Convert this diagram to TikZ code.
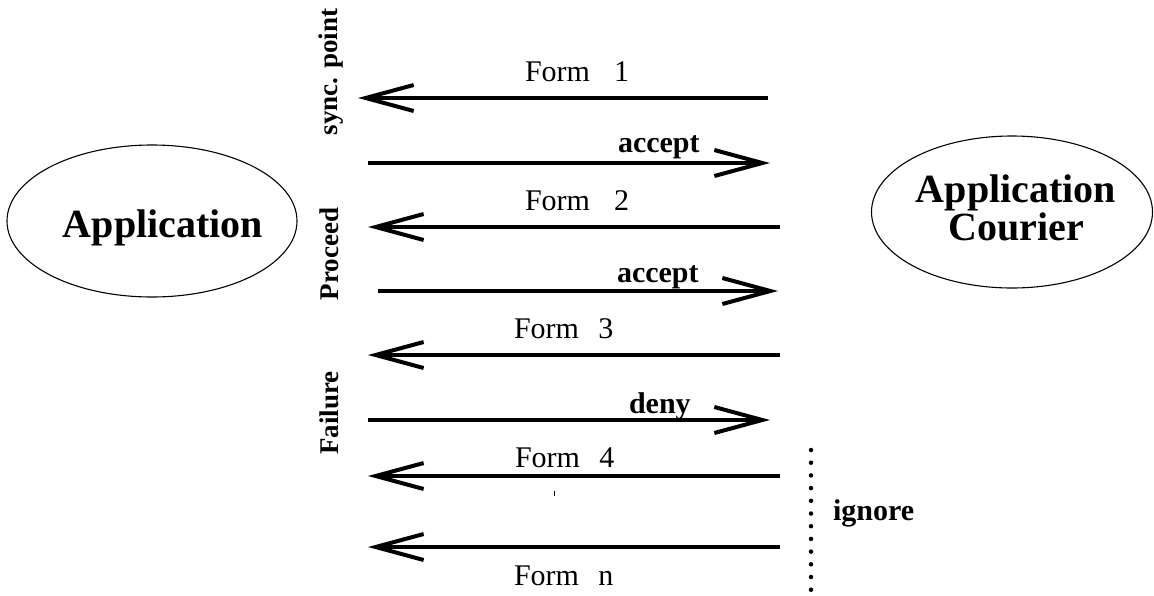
\documentclass[tikz,border=0pt]{standalone}
\usepackage{fontspec}
\setmainfont{Liberation Serif}
\usetikzlibrary{arrows.meta, shapes.geometric}

\begin{document}
\begin{tikzpicture}[x=1pt, y=-1pt, line width=4pt,
    msg/.style = {-{Straight Barb[length=48pt, width=26pt]}},
    party/.style = {draw, ellipse, line width=1.1pt, inner sep=0pt},
    partytext/.style = {inner sep=0pt, anchor=base, align=center, font=\fontsize{40}{38}\selectfont\bfseries},
    formtext/.style = {inner sep=0pt, anchor=base west, font=\fontsize{30}{36}\selectfont},
    replytext/.style = {formtext, font=\fontsize{30}{36}\selectfont\bfseries},
    phasetext/.style = {inner sep=0pt, anchor=base, rotate=90, font=\fontsize{27}{32}\selectfont\bfseries}]
    \useasboundingbox (0,0) rectangle (1154,595);
    % the two parties
    \node[party, minimum width=290pt, minimum height=152pt] (app) at (152,221) {};
    \node[party, minimum width=281pt, minimum height=152pt] (courier) at (1012,212) {};
    \node[partytext] (appname) at (163,237) {Application};
    \node[partytext] (couriername) at (1016,240) {Application\\Courier};
    % end points of the messages
    \coordinate (r1) at (768,98);  \coordinate (l1) at (358,98);
    \coordinate (l2) at (368,163); \coordinate (r2) at (770,163);
    \coordinate (r3) at (780,227); \coordinate (l3) at (368,227);
    \coordinate (l4) at (378,291); \coordinate (r4) at (778,291);
    \coordinate (r5) at (780,355); \coordinate (l5) at (368,355);
    \coordinate (l6) at (368,420); \coordinate (r6) at (770,420);
    \coordinate (r7) at (780,476); \coordinate (l7) at (368,476);
    \coordinate (r8) at (780,547); \coordinate (l8) at (368,547);
    \draw[msg] (r1) -- (l1);
    \draw[msg] (l2) -- (r2);
    \draw[msg] (r3) -- (l3);
    \draw[msg] (l4) -- (r4);
    \draw[msg] (r5) -- (l5);
    \draw[msg] (l6) -- (r6);
    \draw[msg] (r7) -- (l7);
    \draw[msg] (r8) -- (l8);
    % message labels
    \node[formtext] (f1) at (523,81) {Form\hspace{.8em}1};
    \node[replytext] (a1) at (616,152) {accept};
    \node[formtext] (f2) at (523,210) {Form\hspace{.8em}2};
    \node[replytext] (a2) at (615,282) {accept};
    \node[formtext] (f3) at (512,338) {Form\hspace{.65em}3};
    \node[replytext] (d1) at (627,413) {deny};
    \node[formtext] (f4) at (513,467) {Form\hspace{.65em}4};
    \node[formtext] (fn) at (512,585) {Form\hspace{.65em}n};
    % phases
    \node[phasetext] (sync) at (337,72) {sync. point};
    \node[phasetext] (proceed) at (338,254) {Proceed};
    \node[phasetext] (failure) at (338,413) {Failure};
    % ignored forms
    \coordinate (igtop) at (811,450);
    \coordinate (igbot) at (811,592);
    \draw[line width=4.5pt, line cap=round, dash pattern=on 0pt off 12.7pt] (igtop) -- (igbot);
    \node[replytext] (ignore) at (831,520) {ignore};
    \draw[line width=1pt] (554,491) -- (554,496);
\end{tikzpicture}
\end{document}
